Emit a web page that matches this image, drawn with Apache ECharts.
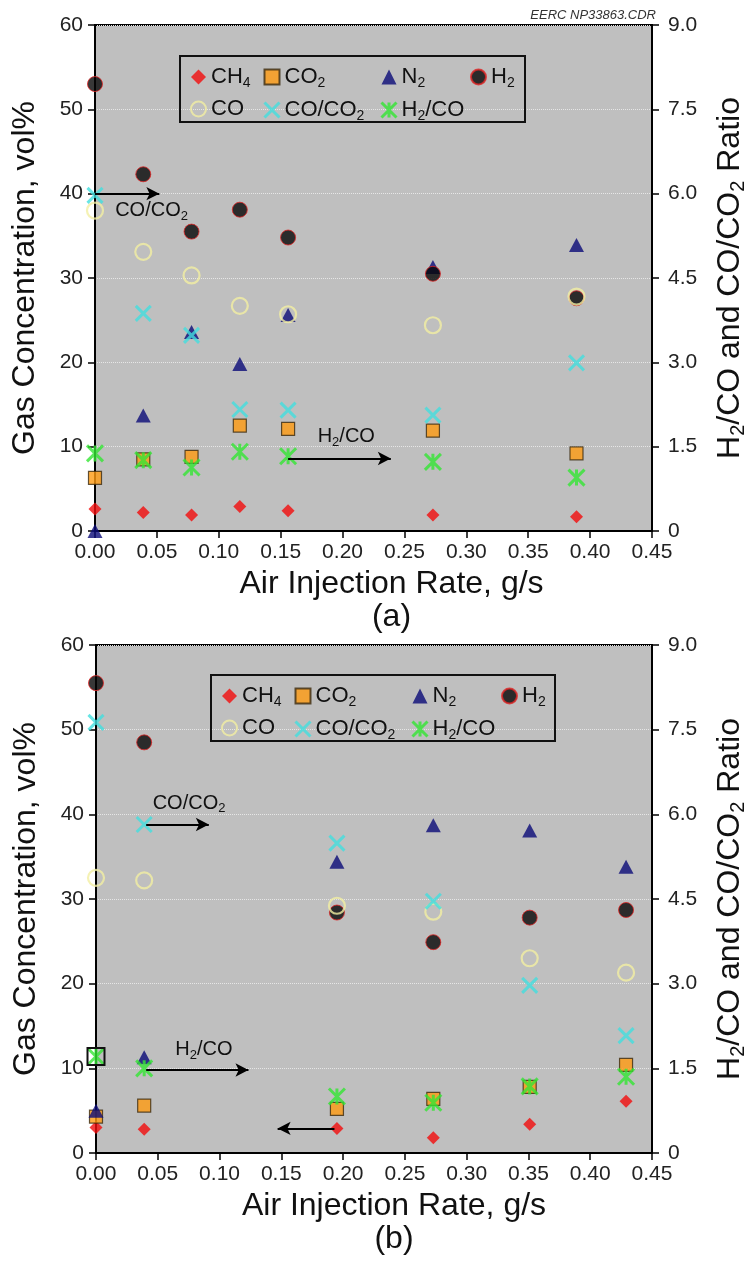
<!DOCTYPE html>
<html>
<head>
<meta charset="utf-8">
<script src="https://cdn.jsdelivr.net/npm/echarts@6/dist/echarts.min.js"></script>
<style>
  html, body { margin: 0; padding: 0; background: #ffffff; }
  #chart { width: 756px; height: 1264px; }
</style>
</head>
<body>
<div id="chart"></div>
<script>
// ---- Panel (a): product gas vs. air injection rate ----
const xA      = [0, 0.039, 0.078, 0.117, 0.156, 0.273, 0.389];
const ch4A    = [2.6, 2.2, 1.9, 2.9, 2.4, 1.9, 1.7];
const co2A    = [6.3, 8.5, 8.8, 12.5, 12.1, 11.9, 9.2];
const n2A     = [0, 13.7, 23.6, 19.8, 25.6, 31.3, 33.9];
const h2A     = [53.0, 42.3, 35.5, 38.1, 34.8, 30.5, 27.6];
const coA     = [38.0, 33.1, 30.3, 26.7, 25.7, 24.4, 27.8];
const coCo2A  = [5.97, 3.87, 3.48, 2.16, 2.15, 2.06, 2.99];
const h2CoA   = [1.38, 1.26, 1.13, 1.41, 1.33, 1.23, 0.95];

// ---- Panel (b) ----
const xB      = [0, 0.039, 0.195, 0.273, 0.351, 0.429];
const ch4B    = [3.0, 2.8, 2.9, 1.8, 3.4, 6.1];
const co2B    = [4.3, 5.6, 5.2, 6.4, 7.8, 10.4];
const n2B     = [5.0, 11.3, 34.4, 38.7, 38.1, 33.8];
const h2B     = [55.5, 48.5, 28.4, 24.9, 27.8, 28.7];
const coB     = [32.5, 32.2, 29.2, 28.5, 23.0, 21.3];
const coCo2B  = [7.63, 5.82, 5.49, 4.46, 2.97, 2.08];
const h2CoB   = [1.71, 1.50, 1.00, 0.89, 1.18, 1.35];

// ---- Axis ticks ----
const xTicks     = { min: 0, max: 0.45, step: 0.05 };
const leftTicks  = { min: 0, max: 60, step: 10 };
const rightTicks = { min: 0, max: 9, step: 1.5 };

// ---- Annotations (left-axis units): pointers to the ratio axis ----
const notesA  = [{ text: 'CO/CO{s|2}', at: [0.0457, 38.0] }, { text: 'H{s|2}/CO', at: [0.203, 11.2] }];
const arrowsA = [{ from: [0, 40], to: [0.052, 40] }, { from: [0.156, 8.6], to: [0.239, 8.6] }];
const notesB  = [{ text: 'CO/CO{s|2}', at: [0.0753, 41.3] }, { text: 'H{s|2}/CO', at: [0.0873, 12.2] }];
const arrowsB = [{ from: [0.0406, 38.8], to: [0.0913, 38.8] },
                 { from: [0.0406, 9.8], to: [0.1234, 9.8] },
                 { from: [0.193, 2.9], to: [0.147, 2.9] }];

const FONT = "'Liberation Sans', Arial, Helvetica, sans-serif";
const SUB = { fontSize: 13, padding: [11, 0, 0, 0], lineHeight: 24, fontFamily: FONT };
const SUB_LEGEND = { fontSize: 14, padding: [12, 0, 0, 0], lineHeight: 24, fontFamily: FONT };

const CROSS = 'path://M0,0L10,10M10,0L0,10';
const STAR  = 'path://M0,0L10,10M10,0L0,10M5,0L5,10';

const seriesStyle = {
  'CH4':    { symbol: 'diamond',  symbolSize: [13, 13], itemStyle: { color: '#f20d0d' } },
  'CO2':    { symbol: 'rect',     symbolSize: 13, itemStyle: { color: '#ff9b12', borderColor: '#3b2a10', borderWidth: 1.2 } },
  'N2':     { symbol: 'triangle', symbolSize: [15, 14], itemStyle: { color: '#0b0b78' } },
  'H2':     { symbol: 'circle',   symbolSize: 15, itemStyle: { color: '#060606', borderColor: '#e02424', borderWidth: 1 } },
  'CO':     { symbol: 'circle',   symbolSize: 16, itemStyle: { color: 'rgba(0,0,0,0)', borderColor: '#f3efa2', borderWidth: 2.2 } },
  'CO/CO2': { symbol: CROSS,      symbolSize: 15, itemStyle: { color: '#42dede', borderColor: '#42dede', borderWidth: 3 } },
  'H2/CO':  { symbol: STAR,       symbolSize: 16, itemStyle: { color: '#33e633', borderColor: '#33e633', borderWidth: 3 } }
};

const legendLabel = {
  'CH4': 'CH{s|4}', 'CO2': 'CO{s|2}', 'N2': 'N{s|2}', 'H2': 'H{s|2}',
  'CO': 'CO', 'CO/CO2': 'CO/CO{s|2}', 'H2/CO': 'H{s|2}/CO'
};

function pts(xs, ys) { return xs.map((x, i) => [x, ys[i]]); }

function scatter(name, xs, ys, xi, yi, extra) {
  return Object.assign({
    type: 'scatter', name: name, xAxisIndex: xi, yAxisIndex: yi,
    data: pts(xs, ys), silent: true
  }, seriesStyle[name], extra || {});
}

function notesAndArrows(notes, arrows) {
  return {
    markLine: {
      silent: true, symbol: ['none', 'arrow'], symbolSize: [10, 13],
      lineStyle: { color: '#000', width: 2, type: 'solid' }, label: { show: false },
      data: arrows.map(a => [{ coord: a.from }, { coord: a.to }])
    },
    markPoint: {
      silent: true, symbol: 'circle', symbolSize: 1,
      itemStyle: { color: 'rgba(0,0,0,0)' },
      label: { show: true, position: 'inside', fontSize: 20, color: '#111', fontFamily: FONT,
               lineHeight: 24, rich: { s: SUB } },
      data: notes.map(n => ({ coord: n.at, label: { formatter: n.text } }))
    }
  };
}

function panelSeries(p, xs, d, notes, arrows, extraH2Co) {
  const xi = p, yl = p * 2, yr = p * 2 + 1;
  return [
    scatter('CH4', xs, d.ch4, xi, yl, notesAndArrows(notes, arrows)),
    scatter('CO2', xs, d.co2, xi, yl),
    scatter('N2', xs, d.n2, xi, yl),
    scatter('H2', xs, d.h2, xi, yl),
    scatter('CO', xs, d.co, xi, yl),
    scatter('CO/CO2', xs, d.coCo2, xi, yr),
    scatter('H2/CO', xs, d.h2Co, xi, yr, extraH2Co)
  ];
}

function xAxisFor(gridIndex, title, shift) {
  return {
    type: 'value', gridIndex: gridIndex, min: xTicks.min, max: xTicks.max, interval: xTicks.step,
    axisLine: { show: true, onZero: false, lineStyle: { color: '#000', width: 2 } },
    axisTick: { show: true, inside: false, length: 7, lineStyle: { color: '#000', width: 1.5 } },
    axisLabel: { fontSize: 21, color: '#222', margin: 11, fontFamily: FONT, formatter: v => v.toFixed(2) },
    splitLine: { show: false },
    name: title, nameLocation: 'middle', nameGap: 37,
    nameTextStyle: { fontSize: 32, lineHeight: 33, color: '#111', fontFamily: FONT, padding: [0, 0, 0, shift] }
  };
}

function leftAxisFor(gridIndex) {
  return {
    type: 'value', gridIndex: gridIndex, position: 'left',
    min: leftTicks.min, max: leftTicks.max, interval: leftTicks.step,
    axisLine: { show: true, onZero: false, lineStyle: { color: '#000', width: 2 } },
    axisTick: { show: true, inside: false, length: 7, lineStyle: { color: '#000', width: 1.5 } },
    axisLabel: { fontSize: 21, color: '#222', margin: 12, fontFamily: FONT },
    splitLine: { show: true, lineStyle: { type: 'dotted', color: '#e6e6e6', width: 1 } },
    name: 'Gas Concentration, vol%', nameLocation: 'middle', nameRotate: 90, nameGap: 54,
    nameTextStyle: { fontSize: 32, color: '#111', fontFamily: FONT }
  };
}

function rightAxisFor(gridIndex) {
  return {
    type: 'value', gridIndex: gridIndex, position: 'right',
    min: rightTicks.min, max: rightTicks.max, interval: rightTicks.step,
    axisLine: { show: true, onZero: false, lineStyle: { color: '#000', width: 2 } },
    axisTick: { show: true, inside: false, length: 7, lineStyle: { color: '#000', width: 1.5 } },
    axisLabel: { fontSize: 21, color: '#222', margin: 16, fontFamily: FONT,
                 formatter: v => (v === 0 ? '0' : v.toFixed(1)) },
    splitLine: { show: false },
    name: 'H{s|2}/CO and CO/CO{s|2} Ratio', nameLocation: 'middle', nameRotate: 90, nameGap: 60,
    nameTextStyle: { fontSize: 32, color: '#111', fontFamily: FONT, lineHeight: 36,
                     rich: { s: { fontSize: 20, padding: [16, 0, 0, 0], lineHeight: 36, fontFamily: FONT } } }
  };
}

// Legend: four columns per panel, each a vertical legend
const legendColumns = [['CH4', 'CO'], ['CO2', 'CO/CO2'], ['N2', 'H2/CO'], ['H2']];
const columnOffsets = [10, 83, 200, 290];

function legendsFor(boxLeft, boxTop) {
  return legendColumns.map((names, i) => ({
    orient: 'vertical', left: boxLeft + columnOffsets[i], top: boxTop + 8,
    padding: 0, itemGap: 7, itemWidth: 15, itemHeight: 15, selectedMode: false,
    data: names.map(n => ({
      name: n,
      itemStyle: (n === 'CO/CO2' || n === 'H2/CO') ? { borderWidth: 3 } : undefined
    })),
    formatter: n => legendLabel[n],
    textStyle: { fontSize: 22, color: '#111', fontFamily: FONT, lineHeight: 24, rich: { s: SUB_LEGEND } }
  }));
}

const legendBoxA = [180, 56, 345, 66];
const legendBoxB = [211, 675, 344, 66];

const chart = echarts.init(document.getElementById('chart'), null, { renderer: 'canvas' });

const option = {
  backgroundColor: '#ffffff',
  animation: false,
  textStyle: { fontFamily: FONT },
  grid: [
    { left: 95, top: 25, width: 561, height: 506, show: true, backgroundColor: '#bfbfbf', borderColor: '#000', borderWidth: 2 },
    { left: 96, top: 645, width: 561, height: 508, show: true, backgroundColor: '#bfbfbf', borderColor: '#000', borderWidth: 2 }
  ],
  xAxis: [
    xAxisFor(0, 'Air Injection Rate, g/s\n(a)', 36),
    xAxisFor(1, 'Air Injection Rate, g/s\n(b)', 40)
  ],
  yAxis: [leftAxisFor(0), rightAxisFor(0), leftAxisFor(1), rightAxisFor(1)],
  legend: legendsFor(legendBoxA[0], legendBoxA[1]).concat(legendsFor(legendBoxB[0], legendBoxB[1])),
  graphic: [
    { type: 'rect', shape: { x: legendBoxA[0], y: legendBoxA[1], width: legendBoxA[2], height: legendBoxA[3] },
      style: { fill: 'none', stroke: '#111', lineWidth: 2 }, z: 1 },
    { type: 'rect', shape: { x: legendBoxB[0], y: legendBoxB[1], width: legendBoxB[2], height: legendBoxB[3] },
      style: { fill: 'none', stroke: '#111', lineWidth: 2 }, z: 1 },
    { type: 'text', x: 656, y: 15,
      style: { text: 'EERC NP33863.CDR', fontSize: 13, fontStyle: 'italic', fontFamily: FONT,
               fill: '#333', align: 'right', verticalAlign: 'middle' } }
  ],
  series: [].concat(
    panelSeries(0, xA, { ch4: ch4A, co2: co2A, n2: n2A, h2: h2A, co: coA, coCo2: coCo2A, h2Co: h2CoA }, notesA, arrowsA),
    panelSeries(1, xB, { ch4: ch4B, co2: co2B, n2: n2B, h2: h2B, co: coB, coCo2: coCo2B, h2Co: h2CoB }, notesB, arrowsB, {
      markPoint: {
        silent: true,
        data: [{ coord: [xB[0], h2CoB[0]], symbol: 'rect', symbolSize: 17,
                 itemStyle: { color: 'rgba(0,0,0,0)', borderColor: '#111', borderWidth: 2 },
                 label: { show: false } }]
      }
    })
  )
};

chart.setOption(option);
</script>
</body>
</html>
